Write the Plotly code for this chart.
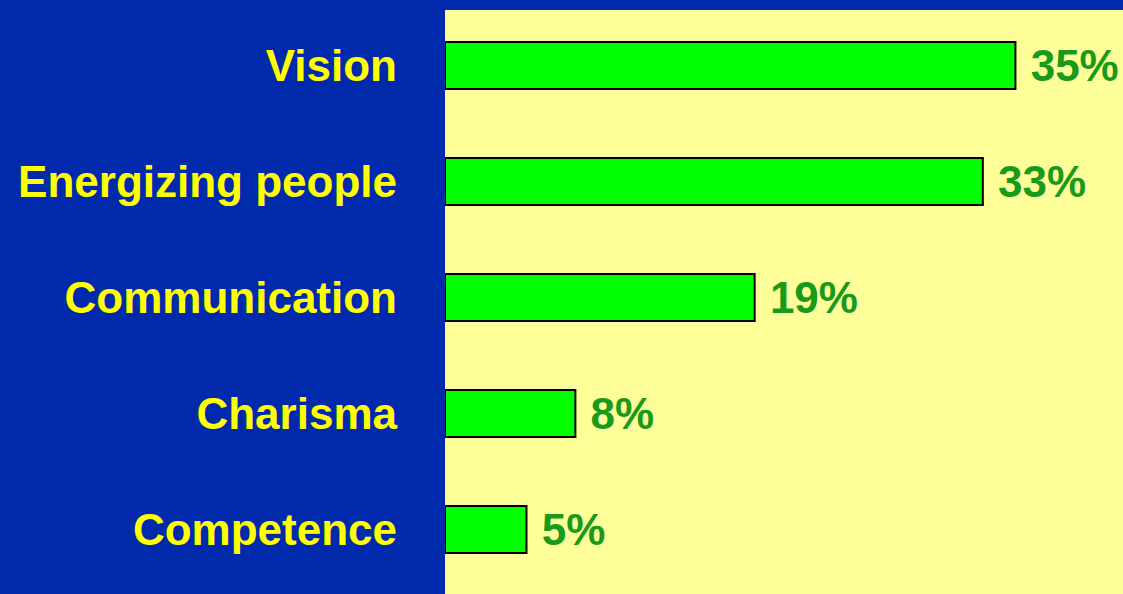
import plotly.graph_objects as go

categories = ["Vision", "Energizing people", "Communication", "Charisma", "Competence"]
values = [35, 33, 19, 8, 5]
value_labels = ["35%", "33%", "19%", "8%", "5%"]

fig = go.Figure(go.Bar(
    y=categories,
    x=values,
    orientation="h",
    width=0.405,
    marker=dict(color="#00FF00", line=dict(color="#000000", width=2)),
    text=[" " + t for t in value_labels],
    textposition="outside",
    textfont=dict(family="Liberation Sans, Arial, sans-serif", size=44, color="#1A9A1A", weight="bold"),
    constraintext="none",
    cliponaxis=False,
))

fig.update_layout(
    width=1123, height=594,
    margin=dict(l=445, r=0, t=10, b=0),
    paper_bgcolor="#0029AB",
    plot_bgcolor="#FFFF99",
    showlegend=False,
    xaxis=dict(range=[0, 41.6], showgrid=False, zeroline=False, showticklabels=False, ticks="", fixedrange=True),
    yaxis=dict(
        categoryorder="array", categoryarray=categories,
        range=[4.556, -0.478],
        showgrid=False, zeroline=False, ticks="",
        ticklabelstandoff=47,
        tickfont=dict(family="Liberation Sans, Arial, sans-serif", size=44, color="#FFFF00", weight="bold"),
        automargin=False,
    ),
)

fig.write_html(
    "out.html",
    config={"displayModeBar": False},
    post_script="document.body.style.margin='0';document.body.style.padding='0';document.body.style.overflow='hidden';",
)
